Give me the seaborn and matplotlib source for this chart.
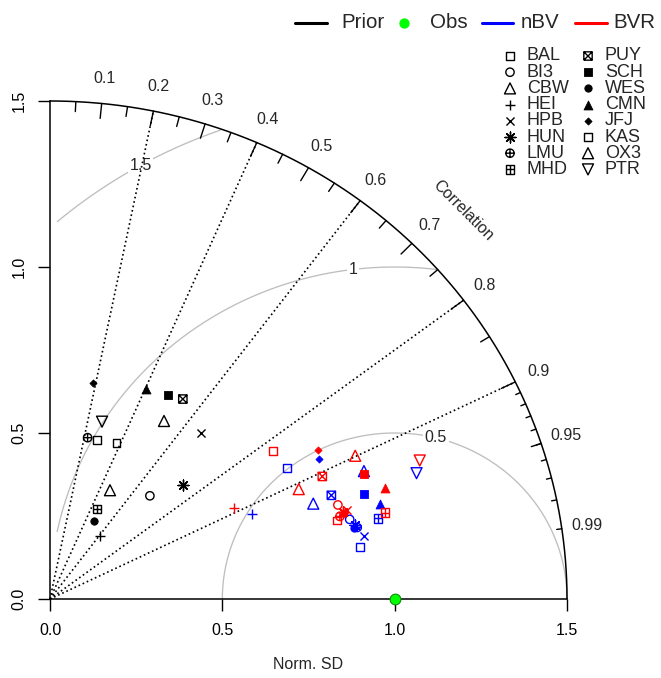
import numpy as np
import pandas as pd
import matplotlib
matplotlib.use("Agg")
import matplotlib.pyplot as plt
import seaborn as sns
from matplotlib.path import Path

# ---------------- data ----------------
stations = ["BAL", "BI3", "CBW", "HEI", "HPB", "HUN", "LMU", "MHD",
            "PUY", "SCH", "WES", "CMN", "JFJ", "KAS", "OX3", "PTR"]
models = ["Prior", "nBV", "BVR"]
model_colors = {"Prior": "black", "nBV": "#0000FF", "BVR": "#FF0000"}

prior_sd = [0.498, 0.425, 0.630, 0.239, 0.665, 0.517, 0.498, 0.303,
            0.715, 0.703, 0.268, 0.690, 0.661, 0.508, 0.371, 0.555]
prior_cor = [0.275, 0.682, 0.525, 0.607, 0.657, 0.748, 0.219, 0.449,
             0.539, 0.488, 0.481, 0.404, 0.188, 0.380, 0.469, 0.272]
nbv_sd = [0.792, 0.902, 0.816, 0.640, 0.931, 0.913, 0.917, 0.983,
          0.874, 0.964, 0.908, 0.999, 0.886, 0.913, 0.989, 1.129]
nbv_cor = [0.867, 0.964, 0.936, 0.917, 0.979, 0.970, 0.972, 0.969,
           0.934, 0.945, 0.972, 0.958, 0.880, 0.985, 0.921, 0.942]
bvr_sd = [0.785, 0.882, 0.794, 0.601, 0.903, 0.889, 0.877, 1.007,
          0.872, 0.986, 0.891, 1.027, 0.897, 0.866, 0.985, 1.151]
bvr_cor = [0.823, 0.947, 0.909, 0.889, 0.955, 0.956, 0.959, 0.966,
           0.906, 0.924, 0.957, 0.946, 0.866, 0.962, 0.899, 0.932]

obs_sd = 1.0
max_sd = 1.5
sd_ticks = [0.0, 0.5, 1.0, 1.5]
sd_tick_labels = ["0.0", "0.5", "1.0", "1.5"]
corr_lines = [0.2, 0.4, 0.6, 0.8, 0.9]
corr_labels = [0.1, 0.2, 0.3, 0.4, 0.5, 0.6, 0.7, 0.8, 0.9, 0.95, 0.99]
gamma_levels = [0.5, 1.0, 1.5]
gamma_label_text = ["0.5", "1", "1.5"]

# ---------------- markers ----------------
def compound(*parts):
    return Path.make_compound_path(*[Path(p) for p in parts])

sq = [(-1, -1), (1, -1), (1, 1), (-1, 1), (-1, -1)]
sq_plus = compound(sq, [(-1, 0), (1, 0)], [(0, -1), (0, 1)])
sq_x = compound(sq, [(-1, -1), (1, 1)], [(-1, 1), (1, -1)])
circ = Path.unit_circle()
circ_plus = Path.make_compound_path(circ, Path([(-1, 0), (1, 0)]), Path([(0, -1), (0, 1)]))

# station -> (marker, filled?, size in pt)
mstyle = {
    "BAL": ("s", False, 5.6),
    "BI3": ("o", False, 6.0),
    "CBW": ("^", False, 7.9),
    "HEI": ("+", None, 6.8),
    "HPB": ("x", None, 5.8),
    "HUN": ((8, 2, 0), None, 7.8),
    "LMU": (circ_plus, False, 6.0),
    "MHD": (sq_plus, False, 6.0),
    "PUY": (sq_x, False, 6.0),
    "SCH": ("s", True, 5.3),
    "WES": ("o", True, 5.3),
    "CMN": ("^", True, 6.4),
    "JFJ": ("D", True, 3.6),
    "KAS": ("s", False, 5.6),
    "OX3": ("^", False, 7.9),
    "PTR": ("v", False, 7.9),
}


def draw_marker(ax, x, y, station, color, zorder=5):
    m, filled, size = mstyle[station]
    kw = dict(marker=m, s=size ** 2, legend=False, zorder=zorder, clip_on=False)
    if filled is None:
        kw.update(facecolor=color, linewidth=1.0)
    elif filled:
        kw.update(facecolor=color, edgecolor=color, linewidth=0.6)
    else:
        kw.update(facecolor="none", edgecolor=color, linewidth=1.0)
    sns.scatterplot(x=np.atleast_1d(x), y=np.atleast_1d(y), ax=ax, **kw)


# ---------------- figure ----------------
sns.set_style("white")
plt.rcParams["font.family"] = ["Liberation Sans", "DejaVu Sans"]
W, H = 661, 678
fig = plt.figure(figsize=(W / 100, H / 100), dpi=100)
ax = fig.add_axes([50 / W, (H - 599) / H, 517 / W, 498 / H])
ax.set_xlim(0, max_sd)
ax.set_ylim(0, max_sd)
ax.patch.set_visible(False)
for s in ["top", "right"]:
    ax.spines[s].set_visible(False)
for s in ["left", "bottom"]:
    ax.spines[s].set_color("black")
    ax.spines[s].set_linewidth(1.1)

ax.set_xticks(sd_ticks)
ax.set_xticklabels(sd_tick_labels)
ax.set_yticks(sd_ticks)
ax.set_yticklabels(sd_tick_labels, rotation=90, va="center")
ax.tick_params(bottom=True, left=True, direction="out", length=8.5, width=1.0,
               labelsize=11.5, colors="black")
ax.tick_params(axis="x", pad=8.5)
ax.tick_params(axis="y", pad=8.5)
ax.set_xlabel("Norm. SD", fontsize=11.5, labelpad=14)
ax.set_ylabel("")

# gamma (centred RMS) contours
th = np.linspace(0, np.pi, 600)
for g in gamma_levels:
    xc = obs_sd + g * np.cos(th)
    yc = g * np.sin(th)
    mask = (xc >= 0.02) & (xc ** 2 + yc ** 2 <= max_sd ** 2 + 1e-9)
    ax.plot(xc[mask], yc[mask], color="#BEBEBE", lw=0.95, zorder=1, clip_on=False)
label_idx = np.array([44, 56, 69])
label_th = label_idx / 104 * np.pi
for g, t, txt in zip(gamma_levels, label_th, gamma_label_text):
    ax.text(obs_sd + g * np.cos(t), g * np.sin(t), txt, ha="center", va="center",
            fontsize=11.5, zorder=2,
            bbox=dict(boxstyle="square,pad=0.1", fc="white", ec="none"))

# correlation radial dotted lines
for c in corr_lines:
    ax.plot([0, max_sd * c], [0, max_sd * np.sqrt(1 - c ** 2)], color="black",
            lw=1.2, ls=(0, (1, 1.7)), zorder=2, clip_on=False)

# outer arc
ta = np.linspace(0, np.pi / 2, 400)
ax.plot(max_sd * np.cos(ta), max_sd * np.sin(ta), color="black", lw=1.1, zorder=3, clip_on=False)

# correlation ticks
def ticks(vals, frac):
    a = np.arccos(np.array(vals))
    for ang in a:
        ax.plot([max_sd * np.cos(ang), frac * max_sd * np.cos(ang)],
                [max_sd * np.sin(ang), frac * max_sd * np.sin(ang)],
                color="black", lw=1.0, zorder=3, clip_on=False)

ticks(np.arange(0.1, 0.91, 0.1), 0.97)
ticks(np.arange(0.05, 0.96, 0.1), 0.98)
ticks(np.arange(0.91, 0.995, 0.01), 0.99)

for c in corr_labels:
    a = np.arccos(c)
    ax.text(1.05 * max_sd * np.cos(a), 1.05 * max_sd * np.sin(a), f"{c:g}",
            ha="center", va="center", fontsize=11.5, clip_on=False)
ax.text(0.8 * max_sd, 0.78 * max_sd, "Correlation", rotation=-45, ha="center",
        va="center", fontsize=11.5, rotation_mode="anchor")

# data points
frames = []
for mname, sds, cors in [("Prior", prior_sd, prior_cor),
                         ("nBV", nbv_sd, nbv_cor),
                         ("BVR", bvr_sd, bvr_cor)]:
    sds = np.array(sds)
    cors = np.array(cors)
    frames.append(pd.DataFrame({"station": stations, "model": mname,
                                "x": sds * cors, "y": sds * np.sqrt(1 - cors ** 2)}))
df = pd.concat(frames, ignore_index=True)
for mname in models:
    sub = df[df.model == mname]
    for _, r in sub.iterrows():
        draw_marker(ax, r.x, r.y, r.station, model_colors[mname], zorder=6)

# observation
sns.scatterplot(x=[obs_sd], y=[0.0], ax=ax, color="#00FF00", s=60, edgecolor="#118811",
                linewidth=0.8, legend=False, zorder=10, clip_on=False)

# ---------------- legends (overlay in pixel coordinates) ----------------
lax = fig.add_axes([0, 0, 1, 1])
lax.set_xlim(0, W)
lax.set_ylim(H, 0)
lax.axis("off")
lax.patch.set_visible(False)

ytop = 23
lax.plot([295, 327], [ytop, ytop], color="black", lw=2.2)
lax.text(341, ytop, "Prior", fontsize=14.8, va="center", ha="left")
sns.scatterplot(x=[404], y=[ytop], ax=lax, color="#00FF00", s=55, linewidth=0, legend=False)
lax.text(430, ytop, "Obs", fontsize=14.8, va="center", ha="left")
lax.plot([482, 513], [ytop, ytop], color="#0000FF", lw=2.2)
lax.text(521, ytop, "nBV", fontsize=14.8, va="center", ha="left")
lax.plot([575, 607], [ytop, ytop], color="#FF0000", lw=2.2)
lax.text(613, ytop, "BVR", fontsize=14.8, va="center", ha="left")

row0, dy = 56, 16.2
for i, st in enumerate(stations):
    col, row = divmod(i, 8)
    yy = row0 + row * dy
    xm = 510 + col * 78
    draw_marker(lax, xm, yy, st, "black")
    lax.text(xm + 17, yy, st, fontsize=13, va="center", ha="left")

fig.savefig("out.png", dpi=100)
